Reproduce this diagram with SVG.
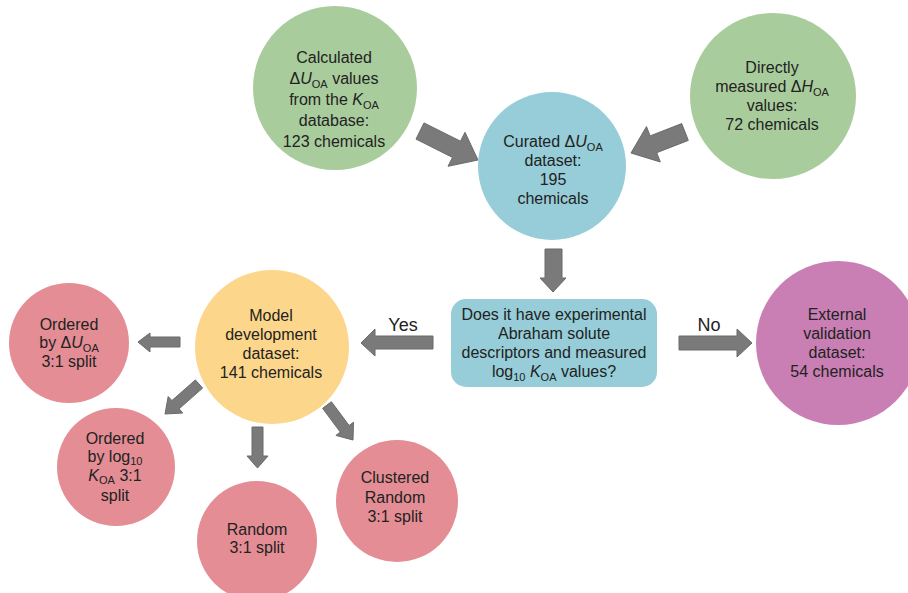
<svg xmlns="http://www.w3.org/2000/svg" width="908" height="593" viewBox="0 0 908 593">
<style>
.t{font-family:"Liberation Sans",Arial,sans-serif;font-size:16px;fill:#222;text-anchor:middle}
.lbl{font-family:"Liberation Sans",Arial,sans-serif;font-size:18px;fill:#222;text-anchor:middle}
.s{font-size:11px}
.i{font-style:italic}
.g{fill:#a9cc9c}
.b{fill:#96cdd8}
.y{fill:#fcd68a}
.r{fill:#e48d94}
.p{fill:#c97fb4}
.a{fill:#7a7a7a;stroke:#6a6a6a;stroke-width:1}
</style>
<rect width="908" height="593" fill="#fff"/>
<g id="connectors">
<polygon class="a" points="416,139.1 424,122.9 460.5,141.2 465,132.3 478,160 448,166.3 452.5,157.4"/>
<polygon class="a" points="681.7,123.6 688.3,140.4 656.7,152.7 660.3,162 631,153 646.5,126.6 650.1,135.9"/>
<polygon class="a" points="545,249 562,249 562,278 566,278 553,292 540,278 545,278"/>
<polygon class="a" points="433,336 375,336 375,329 361,343 375,356 375,349 433,349"/>
<polygon class="a" points="679,336 737,336 737,329 752,343 737,357 737,350 679,350"/>
<polygon class="a" points="180,337 150,337 150,333 138,342 150,352 150,347 180,347"/>
<polygon class="a" points="202.6,388.1 195.4,379.9 171.9,400.6 168.2,396.5 165,414 182.8,413 179.1,408.8"/>
<polygon class="a" points="252,427 263,427 263,456 268,456 257.5,468 247,456 252,456"/>
<polygon class="a" points="322.6,408.3 331.4,401.7 349.1,425.5 353.5,422.2 353,440 335.9,435.4 340.3,432.1"/>
<text class="lbl" x="403" y="331">Yes</text>
<text class="lbl" x="709" y="331">No</text>
</g>
<g id="calculated">
<circle class="g" cx="335" cy="88" r="82"/>
<text class="t" x="334" y="63">Calculated</text>
<text class="t" x="334" y="84">Δ<tspan class="i">U</tspan><tspan class="s" dy="4">OA</tspan><tspan dy="-4"> values</tspan></text>
<text class="t" x="334" y="105">from the <tspan class="i">K</tspan><tspan class="s" dy="4">OA</tspan></text>
<text class="t" x="334" y="126">database:</text>
<text class="t" x="334" y="147">123 chemicals</text>
</g>
<g id="measured">
<circle class="g" cx="773" cy="96" r="83"/>
<text class="t" x="772" y="73">Directly</text>
<text class="t" x="772" y="92">measured Δ<tspan class="i">H</tspan><tspan class="s" dy="4">OA</tspan></text>
<text class="t" x="772" y="111">values:</text>
<text class="t" x="772" y="130">72 chemicals</text>
</g>
<g id="curated">
<circle class="b" cx="552" cy="166" r="74"/>
<text class="t" x="553" y="147">Curated Δ<tspan class="i">U</tspan><tspan class="s" dy="4">OA</tspan></text>
<text class="t" x="553" y="166">dataset:</text>
<text class="t" x="553" y="185">195</text>
<text class="t" x="553" y="204">chemicals</text>
</g>
<g id="question">
<rect class="b" x="451" y="299" width="206" height="88" rx="15"/>
<text class="t" x="554" y="320">Does it have experimental</text>
<text class="t" x="554" y="339">Abraham solute</text>
<text class="t" x="554" y="358">descriptors and measured</text>
<text class="t" x="554" y="377">log<tspan class="s" dy="4">10</tspan><tspan dy="-4"> </tspan><tspan class="i">K</tspan><tspan class="s" dy="4">OA</tspan><tspan dy="-4"> values?</tspan></text>
</g>
<g id="model">
<circle class="y" cx="272" cy="347" r="77"/>
<text class="t" x="271" y="321">Model</text>
<text class="t" x="271" y="340">development</text>
<text class="t" x="271" y="359">dataset:</text>
<text class="t" x="271" y="378">141 chemicals</text>
</g>
<g id="external">
<circle class="p" cx="838" cy="343" r="82"/>
<text class="t" x="837" y="320">External</text>
<text class="t" x="837" y="339">validation</text>
<text class="t" x="837" y="358">dataset:</text>
<text class="t" x="837" y="377">54 chemicals</text>
</g>
<g id="ordered-u">
<circle class="r" cx="69" cy="343" r="60"/>
<text class="t" x="69" y="330">Ordered</text>
<text class="t" x="69" y="348">by Δ<tspan class="i">U</tspan><tspan class="s" dy="4">OA</tspan></text>
<text class="t" x="69" y="367">3:1 split</text>
</g>
<g id="ordered-k">
<circle class="r" cx="116" cy="467" r="59"/>
<text class="t" x="115" y="444">Ordered</text>
<text class="t" x="115" y="462">by log<tspan class="s" dy="3">10</tspan></text>
<text class="t" x="115" y="481"><tspan class="i">K</tspan><tspan class="s" dy="3">OA</tspan><tspan dy="-3"> 3:1</tspan></text>
<text class="t" x="115" y="501">split</text>
</g>
<g id="random">
<circle class="r" cx="257" cy="541" r="60"/>
<text class="t" x="257" y="535">Random</text>
<text class="t" x="257" y="553">3:1 split</text>
</g>
<g id="clustered">
<circle class="r" cx="397" cy="501" r="61"/>
<text class="t" x="395" y="483">Clustered</text>
<text class="t" x="395" y="503">Random</text>
<text class="t" x="395" y="522">3:1 split</text>
</g>
</svg>
